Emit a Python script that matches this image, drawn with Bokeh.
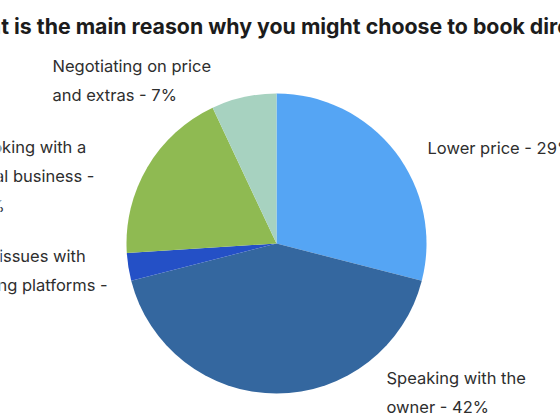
import math
from bokeh.plotting import figure
from bokeh.models import Range1d, ColumnDataSource
from bokeh.core.properties import value
from bokeh.embed import file_html
from bokeh.resources import INLINE

title_text = "What is the main reason why you might choose to book direct?"
categories = ["Lower price", "Speaking with the owner", "Trust issues with booking platforms",
              "Booking with a local business", "Negotiating on price and extras"]
shares = [29, 42, 3, 19, 7]
colors = ["#55a5f4", "#34679f", "#2450c6", "#8fba52", "#a7d2c0"]
label_lines = [
    ["Lower price - 29%"],
    ["Speaking with the", "owner - 42%"],
    ["Trust issues with", "booking platforms -", "3%"],
    ["Booking with a", "local business -", "19%"],
    ["Negotiating on price", "and extras - 7%"],
]

W, H = 560, 420
p = figure(width=W, height=H, output_backend="svg", toolbar_location=None,
           x_range=Range1d(0, W), y_range=Range1d(0, H), min_border=0)
p.axis.visible = False
p.grid.visible = False
p.outline_line_color = None
p.background_fill_color = "white"

# pie
cx, cy, r = 276, H - 243, 150
total = sum(shares)
starts, ends = [], []
a = math.pi / 2
for s in shares:
    starts.append(a)
    a -= 2 * math.pi * s / total
    ends.append(a)
src = ColumnDataSource(dict(start=starts, end=ends, color=colors))
p.wedge(x=cx, y=cy, radius=r, start_angle="start", end_angle="end", direction="clock",
        fill_color="color", line_color=None, source=src)

# labels (anchor of first line, px coords)
anchors = [(427, 147), (386, 377), (-46, 255), (-29, 146), (52, 65)]
lh = 29.5
xs, ys, ts = [], [], []
for (ax, ay), lines in zip(anchors, label_lines):
    for i, t in enumerate(lines):
        xs.append(ax)
        ys.append(H - (ay + i * lh))
        ts.append(t)
p.text(x=xs, y=ys, text=ts, text_font=value("Inter"), text_font_size="16.5px",
       text_color="#2e2e2e", text_baseline="middle", text_align="left")

p.text(x=[-47], y=[H - 25], text=[title_text], text_font=value("Inter"),
       text_font_size="21.3px", text_font_style="bold", text_color="#1c1c1c",
       text_baseline="middle", text_align="left")

open("out.html", "w").write(file_html(p, INLINE))
